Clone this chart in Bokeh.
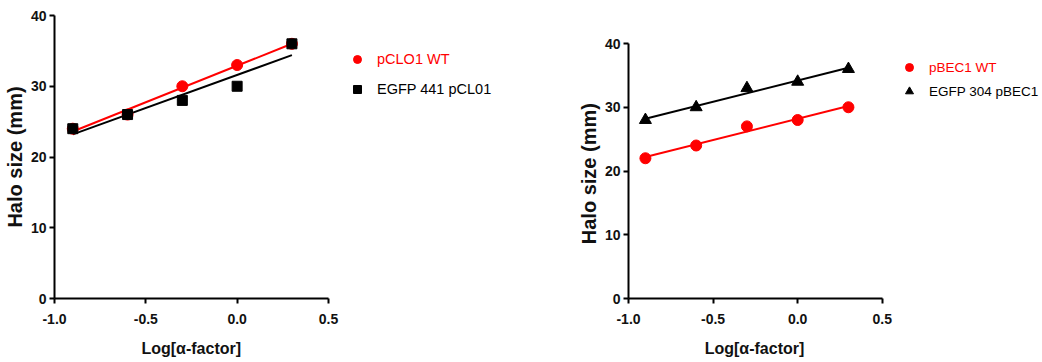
import numpy as np
from bokeh.plotting import figure
from bokeh.layouts import row
from bokeh.models import (Range1d, Legend, LegendItem, FixedTicker,
                          NumeralTickFormatter)
from bokeh.embed import file_html
from bokeh.resources import INLINE

# ---- data ----
log_alpha = [-0.9, -0.6, -0.3, 0.0, 0.3]

pclo1_wt = [24, 26, 30, 33, 36]
egfp441_pcl01 = [24, 26, 28, 30, 36]

pbec1_wt = [22, 24, 27, 28, 30]
egfp304_pbec1 = [28, 30, 33, 34, 36]

x_ticks = [-1.0, -0.5, 0.0, 0.5]
y_ticks = [0, 10, 20, 30, 40]
x_lim = (-1.0, 0.5)
y_lim = (0, 40)

X_LABEL = "Log[\u03b1-factor]"
Y_LABEL = "Halo size (mm)"

RED = "#ff0000"
BLACK = "#000000"
SANS = "Liberation Sans"
TXT = "#111111"
NBSP = "\u00a0"


def fit_line(x, y):
    m, b = np.polyfit(x, y, 1)
    xs = np.array([min(x), max(x)])
    return xs, m * xs + b


def make_fig(width, axis_w, frame_w, axis_h, x_pad, y_pad):
    """axis_w/axis_h: pixel length of the visible axes inside the frame.
    x_pad / y_pad: trailing no-break spaces that shift the centred axis
    titles so they sit under / beside the visible axis part."""
    border_l, border_top, frame_h, height = 52, 15, 283, 362
    p = figure(width=width, height=height, output_backend="svg",
               toolbar_location=None,
               min_border_left=border_l,
               min_border_right=width - border_l - frame_w,
               min_border_top=border_top,
               min_border_bottom=height - border_top - frame_h)
    x_span = (x_lim[1] - x_lim[0]) * frame_w / axis_w
    y_span = (y_lim[1] - y_lim[0]) * frame_h / axis_h
    p.x_range = Range1d(x_lim[0], x_lim[0] + x_span)
    p.y_range = Range1d(y_lim[0], y_lim[0] + y_span)
    p.xgrid.visible = False
    p.ygrid.visible = False
    p.outline_line_color = None
    p.xaxis.ticker = FixedTicker(ticks=x_ticks)
    p.yaxis.ticker = FixedTicker(ticks=y_ticks)
    p.xaxis.bounds = x_lim
    p.yaxis.bounds = y_lim
    p.xaxis.formatter = NumeralTickFormatter(format="0.0")
    for ax in (p.xaxis[0], p.yaxis[0]):
        ax.axis_line_width = 2
        ax.major_tick_line_width = 2
        ax.major_tick_out = 5
        ax.major_tick_in = 0
        ax.minor_tick_out = 0
        ax.minor_tick_in = 0
        ax.major_label_text_font = SANS
        ax.major_label_text_font_style = "bold"
        ax.major_label_text_font_size = "14px"
        ax.major_label_text_color = TXT
        ax.axis_label_text_font = SANS
        ax.axis_label_text_font_style = "bold"
        ax.axis_label_text_color = TXT
    p.xaxis.major_label_standoff = 10
    p.yaxis.major_label_standoff = 3
    p.xaxis.axis_label = X_LABEL + NBSP * x_pad
    p.xaxis.axis_label_text_font_size = "16px"
    p.xaxis.axis_label_standoff = 13
    p.yaxis.axis_label = Y_LABEL + NBSP * y_pad
    p.yaxis.axis_label_text_font_size = "20px"
    p.yaxis.axis_label_standoff = 2
    return p


def add_legend(p, renderer, label, color, x, y, fs):
    lg = Legend(items=[LegendItem(label=label, renderers=[renderer])],
                location=(x, y))
    lg.label_text_color = color
    lg.label_text_font = SANS
    lg.label_text_font_size = fs
    lg.glyph_width = 20
    lg.glyph_height = 20
    lg.label_height = 20
    lg.label_standoff = 10
    lg.padding = 0
    lg.margin = 0
    lg.border_line_color = None
    lg.background_fill_alpha = 0
    p.add_layout(lg)


# ---- left panel ----
p1 = make_fig(width=574, axis_w=275, frame_w=520, axis_h=283, x_pad=55, y_pad=0)
xs, ys = fit_line(log_alpha, egfp441_pcl01)
p1.line(xs, ys, line_color=BLACK, line_width=2)
xs, ys = fit_line(log_alpha, pclo1_wt)
p1.line(xs, ys, line_color=RED, line_width=2)
r_red1 = p1.scatter(log_alpha, pclo1_wt, marker="circle", size=11,
                    fill_color=RED, line_color=RED)
r_blk1 = p1.scatter(log_alpha, egfp441_pcl01, marker="square", size=10,
                    fill_color=BLACK, line_color=BLACK)
add_legend(p1, r_red1, "pCLO1 WT", RED, 293, 229, "14.5px")
add_legend(p1, r_blk1, "EGFP 441 pCL01", BLACK, 293, 199, "14.5px")

# ---- right panel ----
p2 = make_fig(width=468, axis_w=255, frame_w=414, axis_h=255, x_pad=36, y_pad=6)
xs, ys = fit_line(log_alpha, pbec1_wt)
p2.line(xs, ys, line_color=RED, line_width=2)
xs, ys = fit_line(log_alpha, egfp304_pbec1)
p2.line(xs, ys, line_color=BLACK, line_width=2)
r_red2 = p2.scatter(log_alpha, pbec1_wt, marker="circle", size=11,
                    fill_color=RED, line_color=RED)
r_blk2 = p2.scatter(log_alpha, egfp304_pbec1, marker="triangle", size=12,
                    fill_color=BLACK, line_color=BLACK)
add_legend(p2, r_red2, "pBEC1 WT", RED, 271, 221, "13.5px")
add_legend(p2, r_blk2, "EGFP 304 pBEC1", BLACK, 271, 197, "13.5px")

layout = row(p1, p2)
open("out.html", "w").write(file_html(layout, INLINE))
